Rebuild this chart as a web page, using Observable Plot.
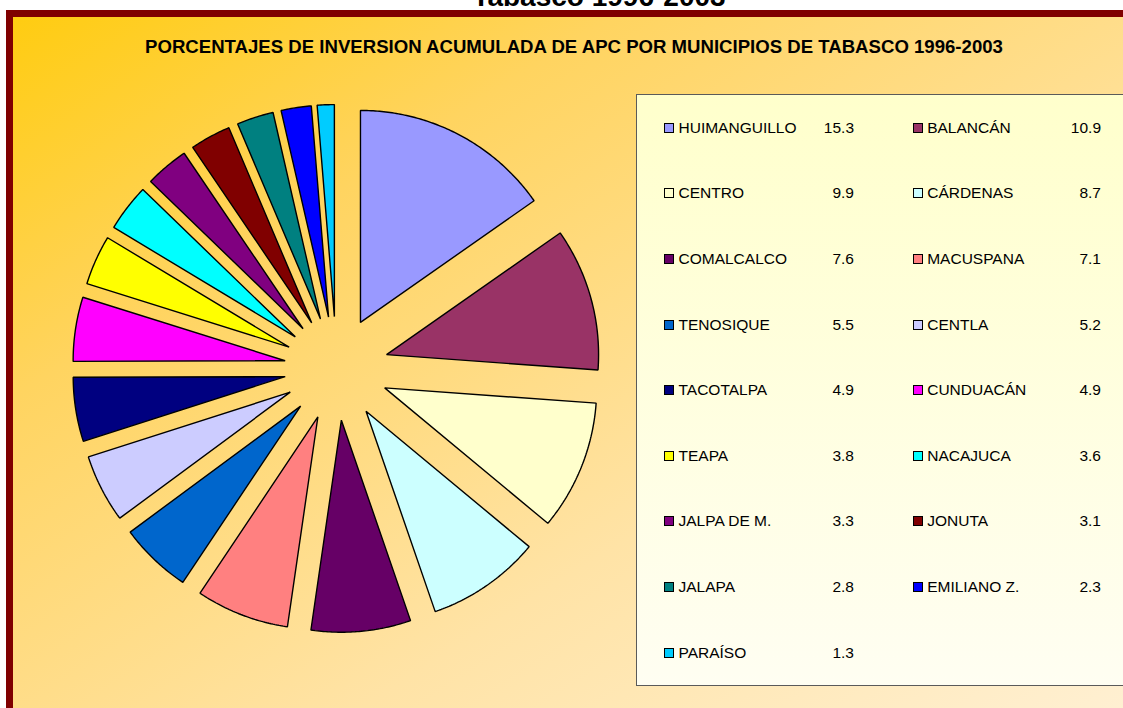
<!DOCTYPE html>
<html>
<head>
<meta charset="utf-8">
<script src="https://cdn.jsdelivr.net/npm/d3@7"></script>
<script src="https://cdn.jsdelivr.net/npm/@observablehq/plot@0.6"></script>
<style>
  html, body { margin: 0; padding: 0; width: 1123px; height: 708px; overflow: hidden; background: #ffffff; font-family: "Liberation Sans", Arial, sans-serif; }
  .abs { position: absolute; }
  #toptitle { left: 0; width: 1198px; top: -17px; text-align: center; font-weight: bold; font-size: 28px; line-height: 28px; color: #000; white-space: nowrap; }
  #frame { left: 6px; top: 10px; width: 1200px; height: 760px; border-left: 7px solid #800000; border-top: 7px solid #800000;
           background: linear-gradient(to bottom right, #FFCC11 0%, #FFD460 25%, #FFE3A6 60%, #FFF3DD 100%); }
  #title { left: 0; width: 1148px; top: 38.2px; text-align: center; font-weight: bold; font-size: 18.6px; line-height: 18.6px; color: #000; white-space: nowrap; }
  #pie { left: 36px; top: 68px; }
  #legend { left: 636px; top: 94px; width: 600px; height: 590px; border: 1px solid #5a5a5a; background: linear-gradient(to bottom, #FFFFCC, #FFFEF2); }
  .lab { font-size: 15.5px; line-height: 16px; color: #000; white-space: nowrap; }
  .sw { width: 10px; height: 10px; box-sizing: border-box; border: 1.5px solid #000; }
</style>
</head>
<body>
<div id="toptitle" class="abs">Tabasco 1996-2003</div>
<div id="frame" class="abs"></div>
<div id="title" class="abs">PORCENTAJES DE INVERSION ACUMULADA DE APC POR MUNICIPIOS DE TABASCO 1996-2003</div>
<div id="legend" class="abs"></div>
<div id="pie" class="abs"></div>
<div id="legitems"></div>
<script>
const municipios = ["HUIMANGUILLO","BALANCÁN","CENTRO","CÁRDENAS","COMALCALCO","MACUSPANA","TENOSIQUE","CENTLA","TACOTALPA","CUNDUACÁN","TEAPA","NACAJUCA","JALPA DE M.","JONUTA","JALAPA","EMILIANO Z.","PARAÍSO"];
const porcentajes = [15.3,10.9,9.9,8.7,7.6,7.1,5.5,5.2,4.9,4.9,3.8,3.6,3.3,3.1,2.8,2.3,1.3];
const etiquetas = ["15.3","10.9","9.9","8.7","7.6","7.1","5.5","5.2","4.9","4.9","3.8","3.6","3.3","3.1","2.8","2.3","1.3"];
const colores = ["#9999FF","#993366","#FFFFCC","#CCFFFF","#660066","#FF8080","#0066CC","#CCCCFF","#000080","#FF00FF","#FFFF00","#00FFFF","#800080","#800000","#008080","#0000FF","#00CCFF"];

// Pie geometry (unit radius), exploded slices
const EXPLODE = 0.245;
const arcs = d3.pie().sort(null).value(d => d)(porcentajes);
const puntos = [];
arcs.forEach((a, i) => {
  const mid = (a.startAngle + a.endAngle) / 2;
  const ox = EXPLODE * Math.sin(mid), oy = EXPLODE * Math.cos(mid);
  const name = municipios[i];
  puntos.push({name, x: ox, y: oy});
  const n = Math.max(2, Math.ceil((a.endAngle - a.startAngle) / 0.01));
  for (let k = 0; k <= n; k++) {
    const t = a.startAngle + (a.endAngle - a.startAngle) * k / n;
    puntos.push({name, x: ox + Math.sin(t), y: oy + Math.cos(t)});
  }
});

const S = 300 / 212;
const chart = Plot.plot({
  width: 600, height: 600, margin: 0,
  style: {background: "transparent", overflow: "visible"},
  x: {domain: [-S, S], axis: null},
  y: {domain: [-S, S], axis: null},
  color: {domain: municipios, range: colores},
  marks: [
    Plot.line(puntos, {x: "x", y: "y", z: "name", fill: "name", stroke: "#000", strokeWidth: 1.4, strokeLinejoin: "miter", curve: "linear-closed"})
  ]
});
document.getElementById("pie").appendChild(chart);

// Legend (two columns, row-major)
const cont = document.getElementById("legitems");
municipios.forEach((m, i) => {
  const row = Math.floor(i / 2), col = i % 2;
  const cy = 127.7 + 65.6 * row;
  const sw = document.createElement("div");
  sw.className = "abs sw";
  sw.style.left = (664 + 248.7 * col) + "px";
  sw.style.top = (cy - 5) + "px";
  sw.style.background = colores[i];
  cont.appendChild(sw);
  const t = document.createElement("div");
  t.className = "abs lab";
  t.style.left = (678.5 + 248.7 * col) + "px";
  t.style.top = (cy - 8) + "px";
  t.textContent = m;
  cont.appendChild(t);
  const v = document.createElement("div");
  v.className = "abs lab";
  v.style.left = (754 + 247 * col) + "px";
  v.style.width = "100px";
  v.style.textAlign = "right";
  v.style.top = (cy - 8) + "px";
  v.textContent = etiquetas[i];
  cont.appendChild(v);
});
</script>
</body>
</html>
